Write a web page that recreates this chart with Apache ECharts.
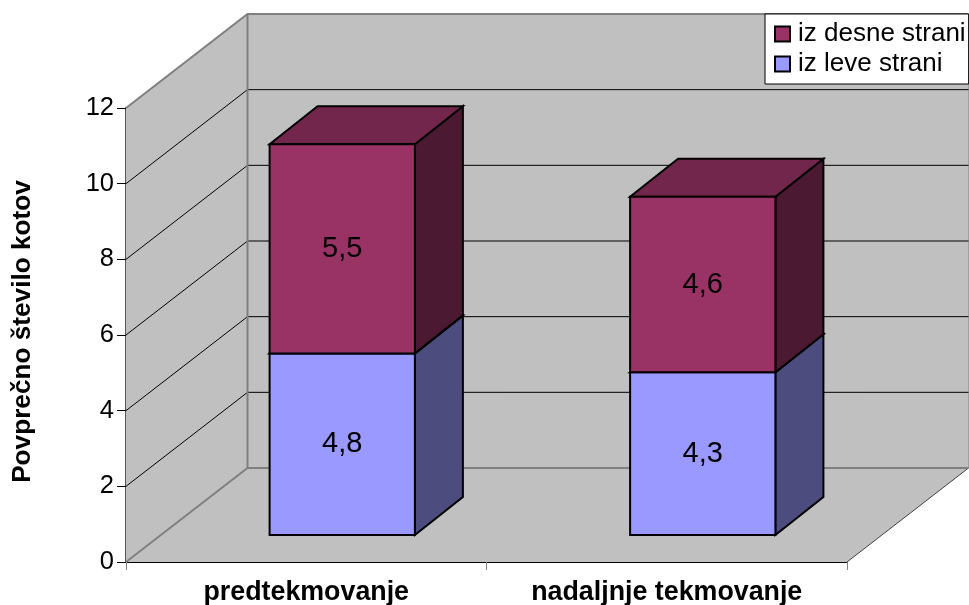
<!DOCTYPE html>
<html>
<head>
<meta charset="utf-8">
<style>html,body{margin:0;padding:0;background:#fff}#c{width:969px;height:605px}</style>
<script src="https://cdn.jsdelivr.net/npm/echarts@6/dist/echarts.min.js"></script>
</head>
<body>
<div id="c"></div>
<script>
var categories = ['predtekmovanje', 'nadaljnje tekmovanje'];
var leftSide = [4.8, 4.3];
var rightSide = [5.53, 4.64];
var leftLabels = ['4,8', '4,3'];
var rightLabels = ['5,5', '4,6'];
var yTicks = [0, 2, 4, 6, 8, 10, 12];
var seriesNames = ['iz desne strani', 'iz leve strani'];

var FONT = '"Liberation Sans", Arial, sans-serif';
var DEPTH = [121.5, -94];      // plot depth
var BAR_SHIFT = [36, -27];     // bar front relative to plot front
var BAR_DEPTH = [48, -38];     // bar depth
var BAR_RATIO = 0.403;

function poly(points, fill, stroke, lw, z2) {
  return {
    type: 'polygon', z2: z2 || 0,
    shape: { points: points },
    style: { fill: fill, stroke: stroke, lineWidth: lw, lineJoin: 'miter' }
  };
}
function line(points, stroke, lw, z2) {
  return {
    type: 'polyline', z2: z2 || 1,
    shape: { points: points },
    style: { fill: null, stroke: stroke, lineWidth: lw }
  };
}

function renderWalls(params, api) {
  var cs = params.coordSys;
  var val = api.value(1);
  var y = api.coord([0, val])[1];
  var x0 = cs.x, x1 = cs.x + cs.width;
  var bx0 = x0 + DEPTH[0], bx1 = x1 + DEPTH[0];
  var by = y + DEPTH[1];
  var children = [];
  if (val === 0) {
    var ty = api.coord([0, 12])[1];
    var tby = ty + DEPTH[1];
    children.push(poly([[bx0, tby], [bx1, tby], [bx1, by], [bx0, by]], '#C0C0C0', 'none', 0));
    children.push(poly([[x0, ty], [bx0, tby], [bx0, by], [x0, y]], '#C0C0C0', 'none', 0));
    children.push(poly([[x0, y], [x1, y], [bx1, by], [bx0, by]], '#C0C0C0', 'none', 0));
    children.push(line([[x1, y], [bx1, by]], '#404040', 1, 3));
    children.push(line([[bx1, tby], [bx1, by]], '#A0A0A0', 1, 1));
    children.push(line([[x0, y], [bx0, by], [bx1, by]], '#808080', 2, 3));
    children.push(line([[x0, ty], [bx0, tby], [bx1, tby]], '#808080', 2, 3));
    children.push(line([[bx0, tby], [bx0, by]], '#808080', 2, 3));
  } else if (val < 12) {
    children.push(line([[x0, y], [bx0, by], [bx1, by]], '#000000', 1, 2));
  }
  return { type: 'group', children: children };
}

function makeBarRenderer(front, side, top, labels) {
  return function (params, api) {
    var cat = api.value(0);
    var w = api.size([1, 0])[0] * BAR_RATIO;
    var pBase = api.coord([cat, api.value(1)]);
    var pTop = api.coord([cat, api.value(2)]);
    var xl = pBase[0] - w / 2 + BAR_SHIFT[0];
    var xr = xl + w;
    var yb = pBase[1] + BAR_SHIFT[1];
    var yt = pTop[1] + BAR_SHIFT[1];
    var dx = BAR_DEPTH[0], dy = BAR_DEPTH[1];
    return {
      type: 'group',
      children: [
        poly([[xr, yb], [xr + dx, yb + dy], [xr + dx, yt + dy], [xr, yt]], side, '#000', 2),
        poly([[xl, yt], [xr, yt], [xr + dx, yt + dy], [xl + dx, yt + dy]], top, '#000', 2),
        poly([[xl, yb], [xr, yb], [xr, yt], [xl, yt]], front, '#000', 2),
        {
          type: 'text', z2: 5,
          style: {
            x: (xl + xr) / 2, y: (yb + yt) / 2,
            text: labels[cat], fill: '#000',
            font: '29px ' + FONT, align: 'center', verticalAlign: 'middle'
          }
        }
      ]
    };
  };
}

var leftData = leftSide.map(function (v, i) { return [i, 0, v]; });
var rightData = rightSide.map(function (v, i) { return [i, leftSide[i], leftSide[i] + v]; });

var chart = echarts.init(document.getElementById('c'), null, { renderer: 'canvas' });
chart.setOption({
  animation: false,
  backgroundColor: '#fff',
  textStyle: { fontFamily: FONT },
  grid: { left: 126, right: 122, top: 108, bottom: 43, containLabel: false, outerBoundsMode: 'none' },
  legend: {
    data: seriesNames,
    orient: 'vertical',
    left: 765, top: 14,
    padding: [7, 3, 7, 9],
    icon: 'rect',
    itemWidth: 15, itemHeight: 15, itemGap: 4,
    backgroundColor: '#fff',
    borderColor: '#000', borderWidth: 1, borderRadius: 0,
    textStyle: { fontFamily: FONT, fontSize: 26, color: '#000', padding: [0, 0, 0, 3] },
    selectedMode: false
  },
  xAxis: {
    type: 'category',
    data: categories,
    axisLine: { show: true, onZero: false, lineStyle: { color: '#000', width: 1 } },
    axisTick: { show: true, alignWithLabel: false, length: 8, lineStyle: { color: '#808080', width: 1 } },
    axisLabel: { color: '#000', fontFamily: FONT, fontSize: 26.8, fontWeight: 'bold', margin: 17 },
    splitLine: { show: false }
  },
  yAxis: {
    type: 'value', min: 0, max: 12, interval: 2,
    name: 'Povprečno število kotov',
    nameLocation: 'middle', nameGap: 90, nameRotate: 90,
    nameTextStyle: { color: '#000', fontFamily: FONT, fontSize: 26.2, fontWeight: 'bold', padding: [0, 0, 0, 7] },
    axisLine: { show: true, lineStyle: { color: '#555', width: 2 } },
    axisTick: { show: true, length: 9, lineStyle: { color: '#000', width: 1 } },
    axisLabel: { color: '#000', fontFamily: FONT, fontSize: 25.5, margin: 12 },
    splitLine: { show: false }
  },
  series: [
    {
      type: 'custom', name: 'walls', silent: true, clip: false, z: 1,
      encode: { x: 0, y: 1 },
      data: yTicks.map(function (v) { return [0, v]; }),
      renderItem: renderWalls
    },
    {
      type: 'custom', name: seriesNames[1], clip: false, z: 3,
      itemStyle: { color: '#9999FF', borderColor: '#000', borderWidth: 2 },
      encode: { x: 0, y: [1, 2] },
      data: leftData,
      renderItem: makeBarRenderer('#9999FF', '#4C4C7F', '#7373BF', leftLabels)
    },
    {
      type: 'custom', name: seriesNames[0], clip: false, z: 4,
      itemStyle: { color: '#993366', borderColor: '#000', borderWidth: 2 },
      encode: { x: 0, y: [1, 2] },
      data: rightData,
      renderItem: makeBarRenderer('#993366', '#4C1933', '#73264C', rightLabels)
    }
  ]
});
</script>
</body>
</html>
